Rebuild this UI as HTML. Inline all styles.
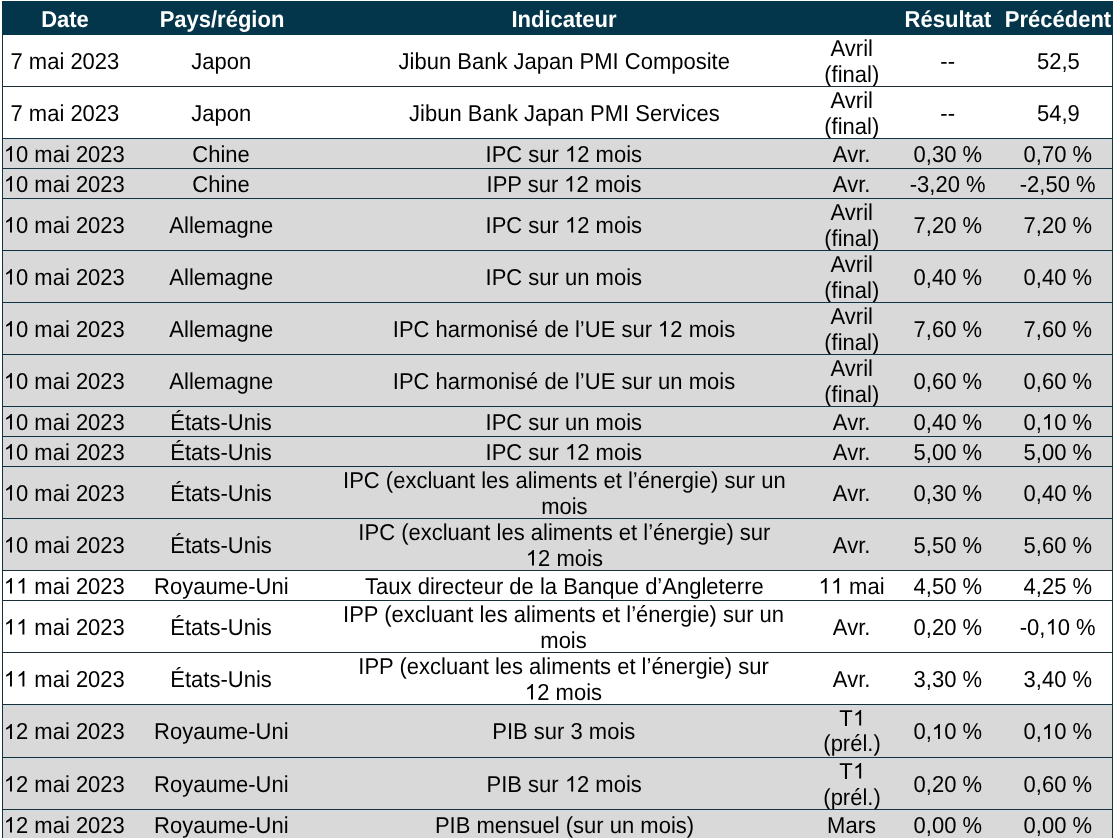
<!DOCTYPE html><html><head><meta charset="utf-8"><style>
*{margin:0;padding:0;box-sizing:border-box}
html,body{width:1116px;height:838px;overflow:hidden;background:#fff}
body{position:relative;text-rendering:geometricPrecision; font-family:"Liberation Sans",sans-serif;font-size:22px;color:#000}
.hdr{position:absolute;left:2px;top:1px;width:1111px;height:34px;background:#03354b}
.h{position:absolute;top:1.0px;width:700px;height:34px;line-height:34px;color:#fff;font-weight:bold;white-space:nowrap;text-align:center;filter:grayscale(1);transform:scale(0.9565217,1.0);transform-origin:50% 25px;font-size:23.0px;}
.row{position:absolute;left:3px;width:1109px}
.g{background:#d9d9d9;box-shadow:inset 1px 1px 0 #cadeea}
.w{background:#fff}
.c{position:absolute;top:1.0px;bottom:-1.0px;width:700px;display:flex;flex-direction:column;justify-content:center;align-items:center;white-space:nowrap;line-height:25.5px;text-align:center}
.c span{display:block;filter:grayscale(1);transform:scale(0.9565217,1.0);font-size:23.0px;letter-spacing:normal;}
.d1{display:inline-block;width:0.55615em;height:0.675em;vertical-align:baseline;fill:currentColor}
.hl{position:absolute;left:2px;width:1111px;height:1px;background:#1b2f39}
.vl{position:absolute;top:35px;width:1px;height:803px;background:#1b2f39}
</style></head><body>
<div class="hdr">
<div class="h" style="left:-287.4px">Date</div>
<div class="h" style="left:-130.5px">Pays/région</div>
<div class="h" style="left:212.0px">Indicateur</div>
<div class="h" style="left:595.5px">Résultat</div>
<div class="h" style="left:706.0px">Précédent</div>
</div>
<div class="row w" style="top:35px;height:51px">
<div class="c" style="left:-288.4px"><span>7 mai 2023</span></div>
<div class="c" style="left:-131.5px"><span>Japon</span></div>
<div class="c" style="left:211.0px"><span>Jibun Bank Japan PMI Composite</span></div>
<div class="c" style="left:499.0px"><span>Avril<br>(final)</span></div>
<div class="c" style="left:594.5px"><span>--</span></div>
<div class="c" style="left:705.0px"><span>52,5</span></div>
</div>
<div class="hl" style="top:86px"></div>
<div class="row w" style="top:87px;height:51px">
<div class="c" style="left:-288.4px"><span>7 mai 2023</span></div>
<div class="c" style="left:-131.5px"><span>Japon</span></div>
<div class="c" style="left:211.0px"><span>Jibun Bank Japan PMI Services</span></div>
<div class="c" style="left:499.0px"><span>Avril<br>(final)</span></div>
<div class="c" style="left:594.5px"><span>--</span></div>
<div class="c" style="left:705.0px"><span>54,9</span></div>
</div>
<div class="hl" style="top:138px"></div>
<div class="row g" style="top:139px;height:29px">
<div class="c" style="left:-288.4px"><span><svg class="d1" viewBox="0 0 1139 1472" preserveAspectRatio="none"><path d="M763 1472L583 1472L583 325Q518 387 412 449Q306 511 222 542L222 368Q373 297 486 196Q599 95 646 0L763 0Z"/></svg>0 mai 2023</span></div>
<div class="c" style="left:-131.5px"><span>Chine</span></div>
<div class="c" style="left:211.0px"><span>IPC sur <svg class="d1" viewBox="0 0 1139 1472" preserveAspectRatio="none"><path d="M763 1472L583 1472L583 325Q518 387 412 449Q306 511 222 542L222 368Q373 297 486 196Q599 95 646 0L763 0Z"/></svg>2 mois</span></div>
<div class="c" style="left:499.0px"><span>Avr.</span></div>
<div class="c" style="left:594.5px"><span>0,30 %</span></div>
<div class="c" style="left:705.0px"><span>0,70 %</span></div>
</div>
<div class="hl" style="top:168px"></div>
<div class="row g" style="top:169px;height:29px">
<div class="c" style="left:-288.4px"><span><svg class="d1" viewBox="0 0 1139 1472" preserveAspectRatio="none"><path d="M763 1472L583 1472L583 325Q518 387 412 449Q306 511 222 542L222 368Q373 297 486 196Q599 95 646 0L763 0Z"/></svg>0 mai 2023</span></div>
<div class="c" style="left:-131.5px"><span>Chine</span></div>
<div class="c" style="left:211.0px"><span>IPP sur <svg class="d1" viewBox="0 0 1139 1472" preserveAspectRatio="none"><path d="M763 1472L583 1472L583 325Q518 387 412 449Q306 511 222 542L222 368Q373 297 486 196Q599 95 646 0L763 0Z"/></svg>2 mois</span></div>
<div class="c" style="left:499.0px"><span>Avr.</span></div>
<div class="c" style="left:594.5px"><span>-3,20 %</span></div>
<div class="c" style="left:705.0px"><span>-2,50 %</span></div>
</div>
<div class="hl" style="top:198px"></div>
<div class="row g" style="top:199px;height:51px">
<div class="c" style="left:-288.4px"><span><svg class="d1" viewBox="0 0 1139 1472" preserveAspectRatio="none"><path d="M763 1472L583 1472L583 325Q518 387 412 449Q306 511 222 542L222 368Q373 297 486 196Q599 95 646 0L763 0Z"/></svg>0 mai 2023</span></div>
<div class="c" style="left:-131.5px"><span>Allemagne</span></div>
<div class="c" style="left:211.0px"><span>IPC sur <svg class="d1" viewBox="0 0 1139 1472" preserveAspectRatio="none"><path d="M763 1472L583 1472L583 325Q518 387 412 449Q306 511 222 542L222 368Q373 297 486 196Q599 95 646 0L763 0Z"/></svg>2 mois</span></div>
<div class="c" style="left:499.0px"><span>Avril<br>(final)</span></div>
<div class="c" style="left:594.5px"><span>7,20 %</span></div>
<div class="c" style="left:705.0px"><span>7,20 %</span></div>
</div>
<div class="hl" style="top:250px"></div>
<div class="row g" style="top:251px;height:51px">
<div class="c" style="left:-288.4px"><span><svg class="d1" viewBox="0 0 1139 1472" preserveAspectRatio="none"><path d="M763 1472L583 1472L583 325Q518 387 412 449Q306 511 222 542L222 368Q373 297 486 196Q599 95 646 0L763 0Z"/></svg>0 mai 2023</span></div>
<div class="c" style="left:-131.5px"><span>Allemagne</span></div>
<div class="c" style="left:211.0px"><span>IPC sur un mois</span></div>
<div class="c" style="left:499.0px"><span>Avril<br>(final)</span></div>
<div class="c" style="left:594.5px"><span>0,40 %</span></div>
<div class="c" style="left:705.0px"><span>0,40 %</span></div>
</div>
<div class="hl" style="top:302px"></div>
<div class="row g" style="top:303px;height:51px">
<div class="c" style="left:-288.4px"><span><svg class="d1" viewBox="0 0 1139 1472" preserveAspectRatio="none"><path d="M763 1472L583 1472L583 325Q518 387 412 449Q306 511 222 542L222 368Q373 297 486 196Q599 95 646 0L763 0Z"/></svg>0 mai 2023</span></div>
<div class="c" style="left:-131.5px"><span>Allemagne</span></div>
<div class="c" style="left:211.0px"><span>IPC harmonisé de l’UE sur <svg class="d1" viewBox="0 0 1139 1472" preserveAspectRatio="none"><path d="M763 1472L583 1472L583 325Q518 387 412 449Q306 511 222 542L222 368Q373 297 486 196Q599 95 646 0L763 0Z"/></svg>2 mois</span></div>
<div class="c" style="left:499.0px"><span>Avril<br>(final)</span></div>
<div class="c" style="left:594.5px"><span>7,60 %</span></div>
<div class="c" style="left:705.0px"><span>7,60 %</span></div>
</div>
<div class="hl" style="top:354px"></div>
<div class="row g" style="top:355px;height:51px">
<div class="c" style="left:-288.4px"><span><svg class="d1" viewBox="0 0 1139 1472" preserveAspectRatio="none"><path d="M763 1472L583 1472L583 325Q518 387 412 449Q306 511 222 542L222 368Q373 297 486 196Q599 95 646 0L763 0Z"/></svg>0 mai 2023</span></div>
<div class="c" style="left:-131.5px"><span>Allemagne</span></div>
<div class="c" style="left:211.0px"><span>IPC harmonisé de l’UE sur un mois</span></div>
<div class="c" style="left:499.0px"><span>Avril<br>(final)</span></div>
<div class="c" style="left:594.5px"><span>0,60 %</span></div>
<div class="c" style="left:705.0px"><span>0,60 %</span></div>
</div>
<div class="hl" style="top:406px"></div>
<div class="row g" style="top:407px;height:29px">
<div class="c" style="left:-288.4px"><span><svg class="d1" viewBox="0 0 1139 1472" preserveAspectRatio="none"><path d="M763 1472L583 1472L583 325Q518 387 412 449Q306 511 222 542L222 368Q373 297 486 196Q599 95 646 0L763 0Z"/></svg>0 mai 2023</span></div>
<div class="c" style="left:-131.5px"><span>États-Unis</span></div>
<div class="c" style="left:211.0px"><span>IPC sur un mois</span></div>
<div class="c" style="left:499.0px"><span>Avr.</span></div>
<div class="c" style="left:594.5px"><span>0,40 %</span></div>
<div class="c" style="left:705.0px"><span>0,<svg class="d1" viewBox="0 0 1139 1472" preserveAspectRatio="none"><path d="M763 1472L583 1472L583 325Q518 387 412 449Q306 511 222 542L222 368Q373 297 486 196Q599 95 646 0L763 0Z"/></svg>0 %</span></div>
</div>
<div class="hl" style="top:436px"></div>
<div class="row g" style="top:437px;height:29px">
<div class="c" style="left:-288.4px"><span><svg class="d1" viewBox="0 0 1139 1472" preserveAspectRatio="none"><path d="M763 1472L583 1472L583 325Q518 387 412 449Q306 511 222 542L222 368Q373 297 486 196Q599 95 646 0L763 0Z"/></svg>0 mai 2023</span></div>
<div class="c" style="left:-131.5px"><span>États-Unis</span></div>
<div class="c" style="left:211.0px"><span>IPC sur <svg class="d1" viewBox="0 0 1139 1472" preserveAspectRatio="none"><path d="M763 1472L583 1472L583 325Q518 387 412 449Q306 511 222 542L222 368Q373 297 486 196Q599 95 646 0L763 0Z"/></svg>2 mois</span></div>
<div class="c" style="left:499.0px"><span>Avr.</span></div>
<div class="c" style="left:594.5px"><span>5,00 %</span></div>
<div class="c" style="left:705.0px"><span>5,00 %</span></div>
</div>
<div class="hl" style="top:466px"></div>
<div class="row g" style="top:467px;height:51px">
<div class="c" style="left:-288.4px"><span><svg class="d1" viewBox="0 0 1139 1472" preserveAspectRatio="none"><path d="M763 1472L583 1472L583 325Q518 387 412 449Q306 511 222 542L222 368Q373 297 486 196Q599 95 646 0L763 0Z"/></svg>0 mai 2023</span></div>
<div class="c" style="left:-131.5px"><span>États-Unis</span></div>
<div class="c" style="left:211.0px"><span>IPC (excluant les aliments et l’énergie) sur un<br>mois</span></div>
<div class="c" style="left:499.0px"><span>Avr.</span></div>
<div class="c" style="left:594.5px"><span>0,30 %</span></div>
<div class="c" style="left:705.0px"><span>0,40 %</span></div>
</div>
<div class="hl" style="top:518px"></div>
<div class="row g" style="top:519px;height:51px">
<div class="c" style="left:-288.4px"><span><svg class="d1" viewBox="0 0 1139 1472" preserveAspectRatio="none"><path d="M763 1472L583 1472L583 325Q518 387 412 449Q306 511 222 542L222 368Q373 297 486 196Q599 95 646 0L763 0Z"/></svg>0 mai 2023</span></div>
<div class="c" style="left:-131.5px"><span>États-Unis</span></div>
<div class="c" style="left:211.0px"><span>IPC (excluant les aliments et l’énergie) sur<br><svg class="d1" viewBox="0 0 1139 1472" preserveAspectRatio="none"><path d="M763 1472L583 1472L583 325Q518 387 412 449Q306 511 222 542L222 368Q373 297 486 196Q599 95 646 0L763 0Z"/></svg>2 mois</span></div>
<div class="c" style="left:499.0px"><span>Avr.</span></div>
<div class="c" style="left:594.5px"><span>5,50 %</span></div>
<div class="c" style="left:705.0px"><span>5,60 %</span></div>
</div>
<div class="hl" style="top:570px"></div>
<div class="row w" style="top:571px;height:29px">
<div class="c" style="left:-288.4px"><span><svg class="d1" viewBox="0 0 1139 1472" preserveAspectRatio="none"><path d="M763 1472L583 1472L583 325Q518 387 412 449Q306 511 222 542L222 368Q373 297 486 196Q599 95 646 0L763 0Z"/></svg><svg class="d1" viewBox="0 0 1139 1472" preserveAspectRatio="none"><path d="M763 1472L583 1472L583 325Q518 387 412 449Q306 511 222 542L222 368Q373 297 486 196Q599 95 646 0L763 0Z"/></svg> mai 2023</span></div>
<div class="c" style="left:-131.5px"><span>Royaume-Uni</span></div>
<div class="c" style="left:211.0px"><span>Taux directeur de la Banque d’Angleterre</span></div>
<div class="c" style="left:499.0px"><span><svg class="d1" viewBox="0 0 1139 1472" preserveAspectRatio="none"><path d="M763 1472L583 1472L583 325Q518 387 412 449Q306 511 222 542L222 368Q373 297 486 196Q599 95 646 0L763 0Z"/></svg><svg class="d1" viewBox="0 0 1139 1472" preserveAspectRatio="none"><path d="M763 1472L583 1472L583 325Q518 387 412 449Q306 511 222 542L222 368Q373 297 486 196Q599 95 646 0L763 0Z"/></svg> mai</span></div>
<div class="c" style="left:594.5px"><span>4,50 %</span></div>
<div class="c" style="left:705.0px"><span>4,25 %</span></div>
</div>
<div class="hl" style="top:600px"></div>
<div class="row w" style="top:601px;height:51px">
<div class="c" style="left:-288.4px"><span><svg class="d1" viewBox="0 0 1139 1472" preserveAspectRatio="none"><path d="M763 1472L583 1472L583 325Q518 387 412 449Q306 511 222 542L222 368Q373 297 486 196Q599 95 646 0L763 0Z"/></svg><svg class="d1" viewBox="0 0 1139 1472" preserveAspectRatio="none"><path d="M763 1472L583 1472L583 325Q518 387 412 449Q306 511 222 542L222 368Q373 297 486 196Q599 95 646 0L763 0Z"/></svg> mai 2023</span></div>
<div class="c" style="left:-131.5px"><span>États-Unis</span></div>
<div class="c" style="left:211.0px"><span>IPP (excluant les aliments et l’énergie) sur un<br>mois</span></div>
<div class="c" style="left:499.0px"><span>Avr.</span></div>
<div class="c" style="left:594.5px"><span>0,20 %</span></div>
<div class="c" style="left:705.0px"><span>-0,<svg class="d1" viewBox="0 0 1139 1472" preserveAspectRatio="none"><path d="M763 1472L583 1472L583 325Q518 387 412 449Q306 511 222 542L222 368Q373 297 486 196Q599 95 646 0L763 0Z"/></svg>0 %</span></div>
</div>
<div class="hl" style="top:652px"></div>
<div class="row w" style="top:653px;height:51px">
<div class="c" style="left:-288.4px"><span><svg class="d1" viewBox="0 0 1139 1472" preserveAspectRatio="none"><path d="M763 1472L583 1472L583 325Q518 387 412 449Q306 511 222 542L222 368Q373 297 486 196Q599 95 646 0L763 0Z"/></svg><svg class="d1" viewBox="0 0 1139 1472" preserveAspectRatio="none"><path d="M763 1472L583 1472L583 325Q518 387 412 449Q306 511 222 542L222 368Q373 297 486 196Q599 95 646 0L763 0Z"/></svg> mai 2023</span></div>
<div class="c" style="left:-131.5px"><span>États-Unis</span></div>
<div class="c" style="left:211.0px"><span>IPP (excluant les aliments et l’énergie) sur<br><svg class="d1" viewBox="0 0 1139 1472" preserveAspectRatio="none"><path d="M763 1472L583 1472L583 325Q518 387 412 449Q306 511 222 542L222 368Q373 297 486 196Q599 95 646 0L763 0Z"/></svg>2 mois</span></div>
<div class="c" style="left:499.0px"><span>Avr.</span></div>
<div class="c" style="left:594.5px"><span>3,30 %</span></div>
<div class="c" style="left:705.0px"><span>3,40 %</span></div>
</div>
<div class="hl" style="top:704px"></div>
<div class="row g" style="top:705px;height:52px">
<div class="c" style="left:-288.4px"><span><svg class="d1" viewBox="0 0 1139 1472" preserveAspectRatio="none"><path d="M763 1472L583 1472L583 325Q518 387 412 449Q306 511 222 542L222 368Q373 297 486 196Q599 95 646 0L763 0Z"/></svg>2 mai 2023</span></div>
<div class="c" style="left:-131.5px"><span>Royaume-Uni</span></div>
<div class="c" style="left:211.0px"><span>PIB sur 3 mois</span></div>
<div class="c" style="left:499.0px;top:0.0px;bottom:0.0px"><span>T<svg class="d1" viewBox="0 0 1139 1472" preserveAspectRatio="none"><path d="M763 1472L583 1472L583 325Q518 387 412 449Q306 511 222 542L222 368Q373 297 486 196Q599 95 646 0L763 0Z"/></svg><br>(prél.)</span></div>
<div class="c" style="left:594.5px"><span>0,<svg class="d1" viewBox="0 0 1139 1472" preserveAspectRatio="none"><path d="M763 1472L583 1472L583 325Q518 387 412 449Q306 511 222 542L222 368Q373 297 486 196Q599 95 646 0L763 0Z"/></svg>0 %</span></div>
<div class="c" style="left:705.0px"><span>0,<svg class="d1" viewBox="0 0 1139 1472" preserveAspectRatio="none"><path d="M763 1472L583 1472L583 325Q518 387 412 449Q306 511 222 542L222 368Q373 297 486 196Q599 95 646 0L763 0Z"/></svg>0 %</span></div>
</div>
<div class="hl" style="top:757px"></div>
<div class="row g" style="top:758px;height:51px">
<div class="c" style="left:-288.4px"><span><svg class="d1" viewBox="0 0 1139 1472" preserveAspectRatio="none"><path d="M763 1472L583 1472L583 325Q518 387 412 449Q306 511 222 542L222 368Q373 297 486 196Q599 95 646 0L763 0Z"/></svg>2 mai 2023</span></div>
<div class="c" style="left:-131.5px"><span>Royaume-Uni</span></div>
<div class="c" style="left:211.0px"><span>PIB sur <svg class="d1" viewBox="0 0 1139 1472" preserveAspectRatio="none"><path d="M763 1472L583 1472L583 325Q518 387 412 449Q306 511 222 542L222 368Q373 297 486 196Q599 95 646 0L763 0Z"/></svg>2 mois</span></div>
<div class="c" style="left:499.0px"><span>T<svg class="d1" viewBox="0 0 1139 1472" preserveAspectRatio="none"><path d="M763 1472L583 1472L583 325Q518 387 412 449Q306 511 222 542L222 368Q373 297 486 196Q599 95 646 0L763 0Z"/></svg><br>(prél.)</span></div>
<div class="c" style="left:594.5px"><span>0,20 %</span></div>
<div class="c" style="left:705.0px"><span>0,60 %</span></div>
</div>
<div class="hl" style="top:809px"></div>
<div class="row g" style="top:810px;height:29px">
<div class="c" style="left:-288.4px"><span><svg class="d1" viewBox="0 0 1139 1472" preserveAspectRatio="none"><path d="M763 1472L583 1472L583 325Q518 387 412 449Q306 511 222 542L222 368Q373 297 486 196Q599 95 646 0L763 0Z"/></svg>2 mai 2023</span></div>
<div class="c" style="left:-131.5px"><span>Royaume-Uni</span></div>
<div class="c" style="left:211.0px"><span>PIB mensuel (sur un mois)</span></div>
<div class="c" style="left:499.0px"><span>Mars</span></div>
<div class="c" style="left:594.5px"><span>0,00 %</span></div>
<div class="c" style="left:705.0px"><span>0,00 %</span></div>
</div>
<div class="hl" style="top:839px"></div>
<div class="vl" style="left:2px"></div><div class="vl" style="left:1112px"></div>
</body></html>
